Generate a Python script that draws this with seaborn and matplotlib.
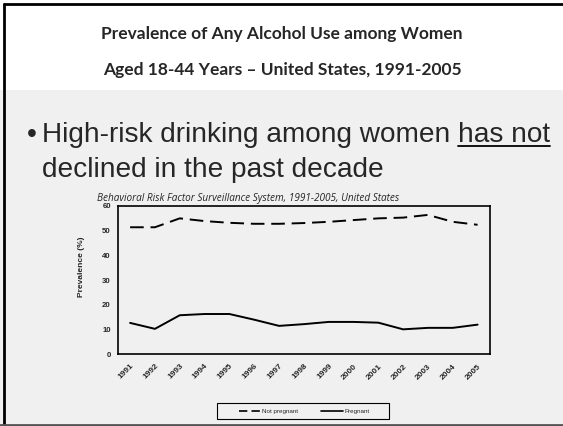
import matplotlib
matplotlib.use("Agg")
import matplotlib.pyplot as plt
import seaborn as sns
import numpy as np
import pandas as pd
from matplotlib.patches import Rectangle
from matplotlib.lines import Line2D

years = ["1991", "1992", "1993", "1994", "1995", "1996", "1997", "1998",
         "1999", "2000", "2001", "2002", "2003", "2004", "2005"]
not_pregnant = [51.4, 51.4, 55.0, 53.9, 53.2, 52.8, 52.8, 53.1,
                53.6, 54.3, 55.0, 55.3, 56.4, 53.6, 52.4]
pregnant = [12.7, 10.3, 15.8, 16.3, 16.3, 14.0, 11.5, 12.2,
            13.1, 13.1, 12.8, 10.1, 10.7, 10.7, 12.0]
yticks = [0, 10, 20, 30, 40, 50, 60]

title_lines = ["Prevalence of Any Alcohol Use among Women",
               "Aged 18-44 Years \u2013 United States, 1991-2005"]
subtitle = "Behavioral Risk Factor Surveillance System, 1991-2005, United States"
bullet_1a = "High-risk drinking among women "
bullet_1b = "has not"
bullet_2 = "declined in the past decade"

sns.set_style("white")
plt.rcParams["font.family"] = ["Liberation Sans", "DejaVu Sans"]

BG = "#f0f0f0"
W, H = 563, 426
BFS = 20.2
fig = plt.figure(figsize=(5.63, 4.26), dpi=100)
fig.patch.set_facecolor("white")

# slide background region
fig.patches.append(Rectangle((0, 0), 1, 1 - 90 / H, transform=fig.transFigure,
                             facecolor=BG, edgecolor="none", zorder=-5))
# slide border
fig.lines.append(Line2D([4 / W, 4 / W], [0, 1 - 4 / H], transform=fig.transFigure,
                        color="black", lw=2, zorder=-4))
fig.lines.append(Line2D([4 / W, 1], [1 - 4 / H, 1 - 4 / H], transform=fig.transFigure,
                        color="black", lw=2, zorder=-4))
fig.lines.append(Line2D([0, 1], [1.5 / H, 1.5 / H], transform=fig.transFigure,
                        color="#555555", lw=2, zorder=-4))

# title
for i, line in enumerate(title_lines):
    fig.text(282 / W, 1 - (34 + 36 * i) / H, line, ha="center", va="center",
             fontsize=12.5, fontweight="bold", family=["Lato", "DejaVu Sans"])

# bullet text
fig.text(27 / W, 1 - 142 / H, "\u2022", ha="left", va="baseline", fontsize=BFS)
t1 = fig.text(42 / W, 1 - 142 / H, bullet_1a + bullet_1b, ha="left",
              va="baseline", fontsize=BFS)
fig.text(42 / W, 1 - 177 / H, bullet_2, ha="left", va="baseline", fontsize=BFS)

# chart
ax = fig.add_axes([117.7 / W, 1 - 354.3 / H, (490 - 117.7) / W, (354.3 - 206) / H])
ax.set_facecolor(BG)

pos = np.arange(len(years))
df = pd.DataFrame({
    "pos": np.concatenate([pos, pos]),
    "value": not_pregnant + pregnant,
    "series": ["Not pregnant"] * len(years) + ["Pregnant"] * len(years),
})
sns.lineplot(data=df, x="pos", y="value", style="series",
             dashes={"Not pregnant": (7, 3.5), "Pregnant": ""},
             color="black", linewidth=1.4, ax=ax, legend=False)

ax.set_xlim(-0.5, len(years) - 0.5)
ax.set_ylim(0, 60)
ax.set_yticks(yticks)
ax.set_yticklabels([str(v) for v in yticks], fontsize=5.6, fontweight="bold")
ax.set_xticks(pos)
ax.set_xticklabels(years, rotation=45, ha="right", va="top", rotation_mode="anchor",
                   fontsize=6, fontweight="bold")
ax.set_xticks(np.arange(-0.5, len(years) + 0.5, 1), minor=True)
ax.tick_params(axis="x", which="major", length=0, pad=6)
ax.tick_params(axis="x", which="minor", length=3, width=0.8, direction="out", color="black")
ax.tick_params(axis="y", length=3, width=0.8, direction="out", color="black", pad=2)
ax.set_xlabel("")
ax.set_ylabel("Prevalence (%)", fontsize=6, fontweight="bold", labelpad=10)
ax.yaxis.set_label_coords(-0.088, 0.59)
for s in ax.spines.values():
    s.set_color("black")
    s.set_linewidth(1.2)

fig.text(97 / W, 1 - 198 / H, subtitle, ha="left", va="center", fontsize=7.2,
         style="italic", family=["Open Sans", "DejaVu Sans"])

# legend box
fig.patches.append(Rectangle((217 / W, 1 - 419 / H), (389 - 217) / W, 16 / H,
                             transform=fig.transFigure, facecolor=BG,
                             edgecolor="black", lw=0.8, zorder=1))
handles = [Line2D([], [], color="black", lw=1.2, dashes=(5, 2.5)),
           Line2D([], [], color="black", lw=1.2)]
leg = fig.legend(handles, ["Not pregnant", "Pregnant"], loc="center",
                 bbox_to_anchor=(304 / W, 1 - 411 / H), ncol=2,
                 fontsize=4.5, frameon=False, handlelength=3.5, columnspacing=3.8,
                 handletextpad=0.15, borderpad=0, borderaxespad=0)
leg.set_zorder(2)

# underline "has not"
fig.canvas.draw()
r = fig.canvas.get_renderer()
bb_full = t1.get_window_extent(r)
tmp = fig.text(0, 0, bullet_1b, fontsize=BFS)
bb_hn = tmp.get_window_extent(r)
tmp.remove()
x1 = bb_full.x1 / W
x0 = (bb_full.x1 - bb_hn.width) / W
fig.lines.append(Line2D([x0, x1], [1 - 146 / H, 1 - 146 / H],
                        transform=fig.transFigure, color="black", lw=1.3))

fig.savefig("out.png", dpi=100, facecolor=fig.get_facecolor())
